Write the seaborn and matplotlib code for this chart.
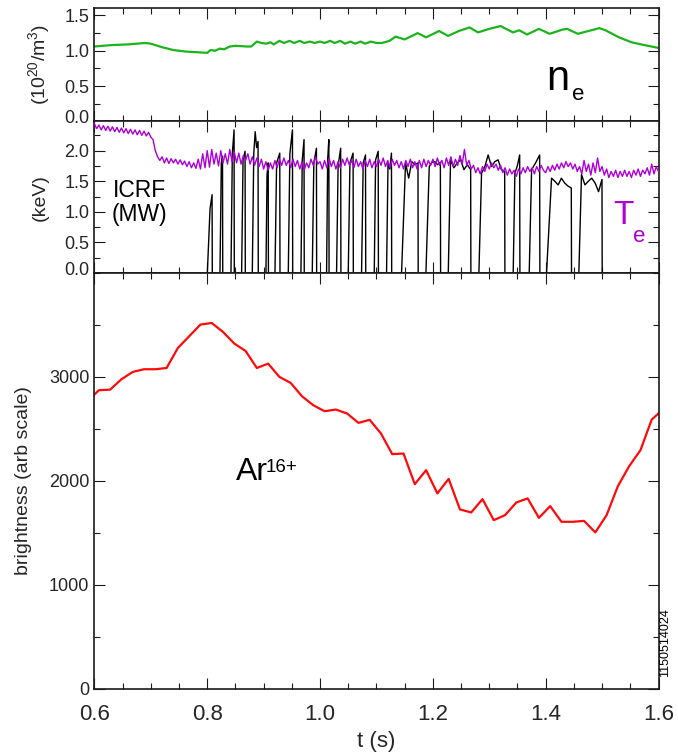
import numpy as np
import pandas as pd
import matplotlib
matplotlib.use("Agg")
import matplotlib.pyplot as plt
import matplotlib.ticker as mticker
import matplotlib.transforms as mtransforms
import seaborn as sns

# ---------------- data ----------------
# electron density (1e20 m^-3)
ne_t = [0.600, 0.630, 0.660, 0.690, 0.700, 0.720, 0.740, 0.760, 0.780, 0.800,
        0.806, 0.814, 0.822, 0.830, 0.840, 0.850, 0.870, 0.878, 0.888, 0.896,
        0.905, 0.912, 0.918, 0.928, 0.936, 0.946, 0.954, 0.964, 0.972, 0.982,
        0.990, 1.000, 1.008, 1.018, 1.026, 1.036, 1.044, 1.054, 1.062, 1.072,
        1.080, 1.090, 1.100, 1.110, 1.123, 1.134, 1.150, 1.173, 1.188, 1.211,
        1.227, 1.246, 1.265, 1.280, 1.300, 1.320, 1.342, 1.353, 1.367, 1.388,
        1.407, 1.430, 1.438, 1.457, 1.476, 1.495, 1.506, 1.530, 1.552, 1.575,
        1.600]
ne_val = [1.06, 1.08, 1.09, 1.11, 1.10, 1.05, 1.01, 0.99, 0.98, 0.97,
          1.01, 1.00, 1.03, 1.02, 1.06, 1.07, 1.06, 1.06, 1.13, 1.11,
          1.10, 1.12, 1.09, 1.14, 1.11, 1.14, 1.11, 1.14, 1.11, 1.13,
          1.11, 1.13, 1.11, 1.14, 1.11, 1.14, 1.10, 1.13, 1.10, 1.13,
          1.10, 1.13, 1.11, 1.11, 1.14, 1.20, 1.16, 1.25, 1.19, 1.28,
          1.21, 1.28, 1.33, 1.26, 1.31, 1.35, 1.26, 1.29, 1.23, 1.31,
          1.24, 1.30, 1.31, 1.24, 1.28, 1.32, 1.29, 1.19, 1.12, 1.08,
          1.04]

# electron temperature (keV), sampled every 4 ms from 0.6 s to 1.6 s
te_kev = [
    2.44, 2.36, 2.42, 2.34, 2.41, 2.33, 2.40, 2.32, 2.39, 2.31, 2.38, 2.30, 2.37, 2.29, 2.36, 2.28, 2.35, 2.27, 2.34, 2.26, 2.33, 2.25, 2.32, 2.24, 2.30,
    2.22, 2.18, 2.00, 1.90, 1.84, 1.90, 1.80, 1.88, 1.79, 1.87, 1.80, 1.86, 1.78, 1.85, 1.77, 1.83, 1.74, 1.82, 1.72, 1.80, 1.71, 1.86, 1.70, 1.95, 1.72,
    2.00, 1.73, 2.02, 1.78, 1.96, 1.75, 2.00, 1.80, 1.95, 1.78, 2.02, 1.82, 1.98, 1.80, 1.96, 1.78, 1.92, 1.84, 1.95, 1.78, 1.90, 1.76, 1.88, 1.74, 1.86,
    1.70, 1.82, 1.68, 1.80, 1.70, 1.84, 1.72, 1.86, 1.76, 1.88, 1.76, 1.84, 1.72, 1.86, 1.74, 1.84, 1.70, 1.82, 1.68, 1.80, 1.72, 1.86, 1.76, 1.90, 1.78,
    1.82, 1.70, 1.84, 1.72, 1.88, 1.74, 1.84, 1.70, 1.82, 1.72, 1.86, 1.76, 1.88, 1.76, 1.84, 1.72, 1.86, 1.74, 1.82, 1.70, 1.84, 1.74, 1.86, 1.72, 1.82,
    1.74, 1.86, 1.76, 1.88, 1.74, 1.84, 1.72, 1.86, 1.76, 1.84, 1.72, 1.82, 1.70, 1.84, 1.74, 1.86, 1.72, 1.82, 1.70, 1.84, 1.72, 1.86, 1.74, 1.84, 1.76,
    1.86, 1.74, 1.88, 1.76, 1.84, 1.72, 1.88, 1.76, 1.90, 1.74, 1.86, 1.76, 1.92, 1.78, 2.02, 1.76, 1.84, 1.70, 1.76, 1.64, 1.72, 1.62, 1.74, 1.66, 1.78,
    1.70, 1.80, 1.72, 1.78, 1.68, 1.76, 1.64, 1.72, 1.60, 1.70, 1.62, 1.68, 1.58, 1.70, 1.62, 1.72, 1.64, 1.74, 1.66, 1.72, 1.62, 1.74, 1.66, 1.76, 1.68,
    1.64, 1.74, 1.66, 1.76, 1.68, 1.78, 1.70, 1.80, 1.72, 1.82, 1.74, 1.80, 1.70, 1.78, 1.66, 1.74, 1.62, 1.84, 1.66, 1.78, 1.60, 1.80, 1.64, 1.88, 1.66,
    1.74, 1.60, 1.70, 1.56, 1.66, 1.58, 1.68, 1.56, 1.66, 1.58, 1.68, 1.58, 1.66, 1.56, 1.68, 1.60, 1.70, 1.58, 1.68, 1.62, 1.72, 1.60, 1.78, 1.62, 1.74,
    1.66]
te_t_start, te_t_end = 0.6, 1.6

# ICRF power pulses (MW): switch-on time, end of rise, switch-off time, levels while on
icrf_on = [0.8002, 0.8226, 0.8421, 0.8610, 0.8799, 0.9041, 0.9201, 0.9437, 0.9661, 0.9862,
           1.0116, 1.0293, 1.0500, 1.0736, 1.0961, 1.1179, 1.1445, 1.1877, 1.2273, 1.2816,
           1.3424, 1.3708, 1.4015, 1.4588]
icrf_top = [0.8050, 0.8250, 0.8445, 0.8635, 0.8825, 0.9060, 0.9230, 0.9465, 0.9685, 0.9890,
            1.0135, 1.0320, 1.0530, 1.0765, 1.0985, 1.1205, 1.1516, 1.1936, 1.2314, 1.2863,
            1.3454, 1.3750, 1.4104, 1.4635]
icrf_off = [0.8090, 0.8275, 0.8480, 0.8675, 0.8905, 0.9085, 0.9290, 0.9515, 0.9720, 0.9940,
            1.0160, 1.0370, 1.0590, 1.0810, 1.1035, 1.1270, 1.1740, 1.2137, 1.2674, 1.3277,
            1.3543, 1.3897, 1.4458, 1.5002]
icrf_levels = [
    [1.05, 1.28], [1.80, 1.91], [1.95, 2.34], [1.85, 1.99], [1.95, 2.31, 2.05, 2.15],
    [1.60, 1.80], [1.80, 1.96], [1.95, 2.34], [1.85, 2.18], [1.80, 2.04],
    [1.85, 2.18], [1.75, 2.04], [1.80, 1.96], [1.80, 1.93], [1.85, 1.99],
    [1.80, 1.70, 1.96],
    [1.80, 1.55, 1.82, 1.77, 1.80],
    [1.74, 1.81, 1.82, 1.77, 1.81],
    [1.85, 1.72, 1.80, 1.85, 1.69, 1.77, 1.69],
    [1.63, 1.74, 1.93, 1.74, 1.82, 1.85, 1.69, 1.66],
    [1.63, 1.75, 1.93],
    [1.69, 1.80, 1.93],
    [1.55, 1.50, 1.44, 1.55, 1.47, 1.42, 1.39],
    [1.61, 1.44, 1.50, 1.55, 1.47, 1.33, 1.53],
]

# Ar16+ brightness (arb. units)
ar_t = [0.588, 0.608, 0.628, 0.648, 0.668, 0.688, 0.708, 0.728, 0.748, 0.768,
        0.788, 0.808, 0.828, 0.848, 0.868, 0.888, 0.908, 0.928, 0.948, 0.968,
        0.988, 1.008, 1.028, 1.048, 1.068, 1.088, 1.108, 1.128, 1.148, 1.168,
        1.188, 1.208, 1.228, 1.248, 1.268, 1.288, 1.308, 1.328, 1.348, 1.368,
        1.388, 1.408, 1.428, 1.448, 1.468, 1.488, 1.508, 1.528, 1.548, 1.568,
        1.588, 1.608]
ar_brightness = [2770, 2872, 2878, 2978, 3048, 3074, 3074, 3086, 3279, 3391,
                 3504, 3519, 3433, 3321, 3250, 3086, 3128, 3000, 2942, 2814,
                 2728, 2670, 2686, 2648, 2558, 2587, 2456, 2257, 2263, 1968,
                 2103, 1879, 2019, 1725, 1696, 1824, 1622, 1670, 1792, 1831,
                 1644, 1757, 1606, 1606, 1615, 1504, 1670, 1949, 2141, 2295,
                 2590, 2687]

x_ticks = [0.6, 0.8, 1.0, 1.2, 1.4, 1.6]
x_tick_labels = ["0.6", "0.8", "1.0", "1.2", "1.4", "1.6"]
ne_ticks = [0.0, 0.5, 1.0, 1.5]
te_ticks = [0.0, 0.5, 1.0, 1.5, 2.0]
br_ticks = [0, 1000, 2000, 3000]

# ---------------- style ----------------
sns.set_style("ticks")
plt.rcParams['font.family'] = ['Liberation Sans', 'DejaVu Sans']
plt.rcParams['mathtext.fontset'] = 'custom'
plt.rcParams['mathtext.rm'] = 'Liberation Sans'
plt.rcParams['mathtext.it'] = 'Liberation Sans:italic'

GREEN = '#1cb41c'
PURPLE = '#ad00d6'
RED = '#ff0a0a'
FRAME = '#1a1a1a'

W, H = 678, 756
fig = plt.figure(figsize=(W / 100, H / 100), dpi=100)

def px_axes(x0, y0, x1, y1):
    return fig.add_axes([x0 / W, 1 - y1 / H, (x1 - x0) / W, (y1 - y0) / H])

XL, XR = 94.4, 658.5
ax_ne = px_axes(XL, 7.7, XR, 121.3)
ax_te = px_axes(XL, 121.3, XR, 273.0)
ax_br = px_axes(XL, 273.0, XR, 688.7)

# ---- top: density
df_ne = pd.DataFrame({'t': ne_t, 'ne': ne_val})
sns.lineplot(data=df_ne, x='t', y='ne', ax=ax_ne, color=GREEN, lw=1.6,
             estimator=None, sort=False)
ax_ne.set_ylim(0, 1.61)

# ---- middle: Te and ICRF
te_t = np.linspace(te_t_start, te_t_end, len(te_kev))
rf_x, rf_y = [0.6], [0.0]
for on, top, off, lv in zip(icrf_on, icrf_top, icrf_off, icrf_levels):
    rf_x.append(on)
    rf_y.append(0.0)
    n = len(lv)
    for i, v in enumerate(lv):
        rf_x.append(top + i * (off - 0.0004 - top) / (n - 1))
        rf_y.append(v)
    rf_x.append(off)
    rf_y.append(0.0)
rf_x.append(1.6)
rf_y.append(0.0)
df_rf = pd.DataFrame({'t': rf_x, 'P': rf_y})
df_te = pd.DataFrame({'t': te_t, 'Te': te_kev})
sns.lineplot(data=df_rf, x='t', y='P', ax=ax_te, color='black', lw=1.0,
             estimator=None, sort=False, zorder=2)
sns.lineplot(data=df_te, x='t', y='Te', ax=ax_te, color=PURPLE, lw=1.0,
             estimator=None, sort=False, zorder=3)
ax_te.set_ylim(0, 2.48)

# ---- bottom: brightness
df_br = pd.DataFrame({'t': ar_t, 'b': ar_brightness})
sns.lineplot(data=df_br, x='t', y='b', ax=ax_br, color=RED, lw=1.6,
             estimator=None, sort=False)
ax_br.set_ylim(0, 4000)

# ---- common axis styling
for ax in (ax_ne, ax_te, ax_br):
    ax.set_xlim(0.6, 1.6)
    ax.xaxis.set_major_locator(mticker.FixedLocator(x_ticks))
    ax.xaxis.set_minor_locator(mticker.MultipleLocator(0.05))
    ax.tick_params(which='both', direction='in', top=True, right=True,
                   width=0.8, color=FRAME)
    ax.tick_params(which='major', length=7.7)
    ax.tick_params(which='minor', length=4.1)
    ax.tick_params(axis='y', labelsize=13, pad=3.6)
    for s in ax.spines.values():
        s.set_linewidth(1.2)
        s.set_color(FRAME)
    ax.set_xlabel('')
    ax.set_ylabel('')

for ax in (ax_ne, ax_te):
    ax.tick_params(axis='x', labelbottom=False)

ax_ne.set_yticks(ne_ticks)
ax_ne.set_yticklabels([f"{v:.1f}" for v in ne_ticks])
ax_ne.yaxis.set_minor_locator(mticker.MultipleLocator(0.25))
ax_te.set_yticks(te_ticks)
ax_te.set_yticklabels([f"{v:.1f}" for v in te_ticks])
ax_te.yaxis.set_minor_locator(mticker.MultipleLocator(0.25))
ax_br.set_yticks(br_ticks)
ax_br.set_yticklabels([str(v) for v in br_ticks])
ax_br.yaxis.set_minor_locator(mticker.MultipleLocator(500))
ax_br.set_xticklabels(x_tick_labels)
ax_br.tick_params(axis='x', labelsize=16, pad=11)

# shift the "0.0" labels of the upper panels slightly upward (as in original)
for ax in (ax_ne, ax_te):
    lab = ax.yaxis.get_major_ticks()[0].label1
    lab.set_transform(lab.get_transform() +
                      mtransforms.ScaledTranslation(0, 5 / 100, fig.dpi_scale_trans))

# ---- axis titles
ax_ne.set_ylabel(r'(10$^{\mathregular{20}}$/m$^{\mathregular{3}}$)', fontsize=14)
ax_te.set_ylabel('(keV)', fontsize=14)
ax_br.set_ylabel('brightness (arb scale)', fontsize=14)
for ax, xc in ((ax_ne, 39), (ax_te, 40), (ax_br, 24)):
    ax.yaxis.label.set_horizontalalignment('center')
    ax.yaxis.label.set_verticalalignment('center')
    ax.yaxis.label.set_rotation_mode('anchor')
    ax.yaxis.set_label_coords((xc - XL) / (XR - XL), 0.5)

ax_br.set_xlabel('t (s)', fontsize=16)
ax_br.xaxis.label.set_verticalalignment('center')
ax_br.xaxis.set_label_coords(0.5, (688.7 - 741) / (688.7 - 273.0))

# ---- annotations (pixel positions converted to figure fraction)
def ftext(x, y, s, **kw):
    fig.text(x / W, 1 - y / H, s, va='baseline', ha='left', **kw)

ftext(546, 90, 'n', fontsize=30, color='black')
ftext(572, 100, 'e', fontsize=16, color='black')
ftext(113, 197, 'ICRF', fontsize=16.5, color='black')
ftext(112, 221, '(MW)', fontsize=16.5, color='black')
ftext(613, 224, 'T', fontsize=24, color=PURPLE)
ftext(633, 241.5, 'e', fontsize=16, color=PURPLE)
ftext(236, 480, 'Ar', fontsize=23, color='black')
ftext(265.5, 471.5, '16+', fontsize=13.5, color='black')
fig.text(665 / W, 1 - 643 / H, '1150514024', rotation=90, ha='center',
         va='center', fontsize=9, color='black')

fig.savefig('out.png', dpi=100)
